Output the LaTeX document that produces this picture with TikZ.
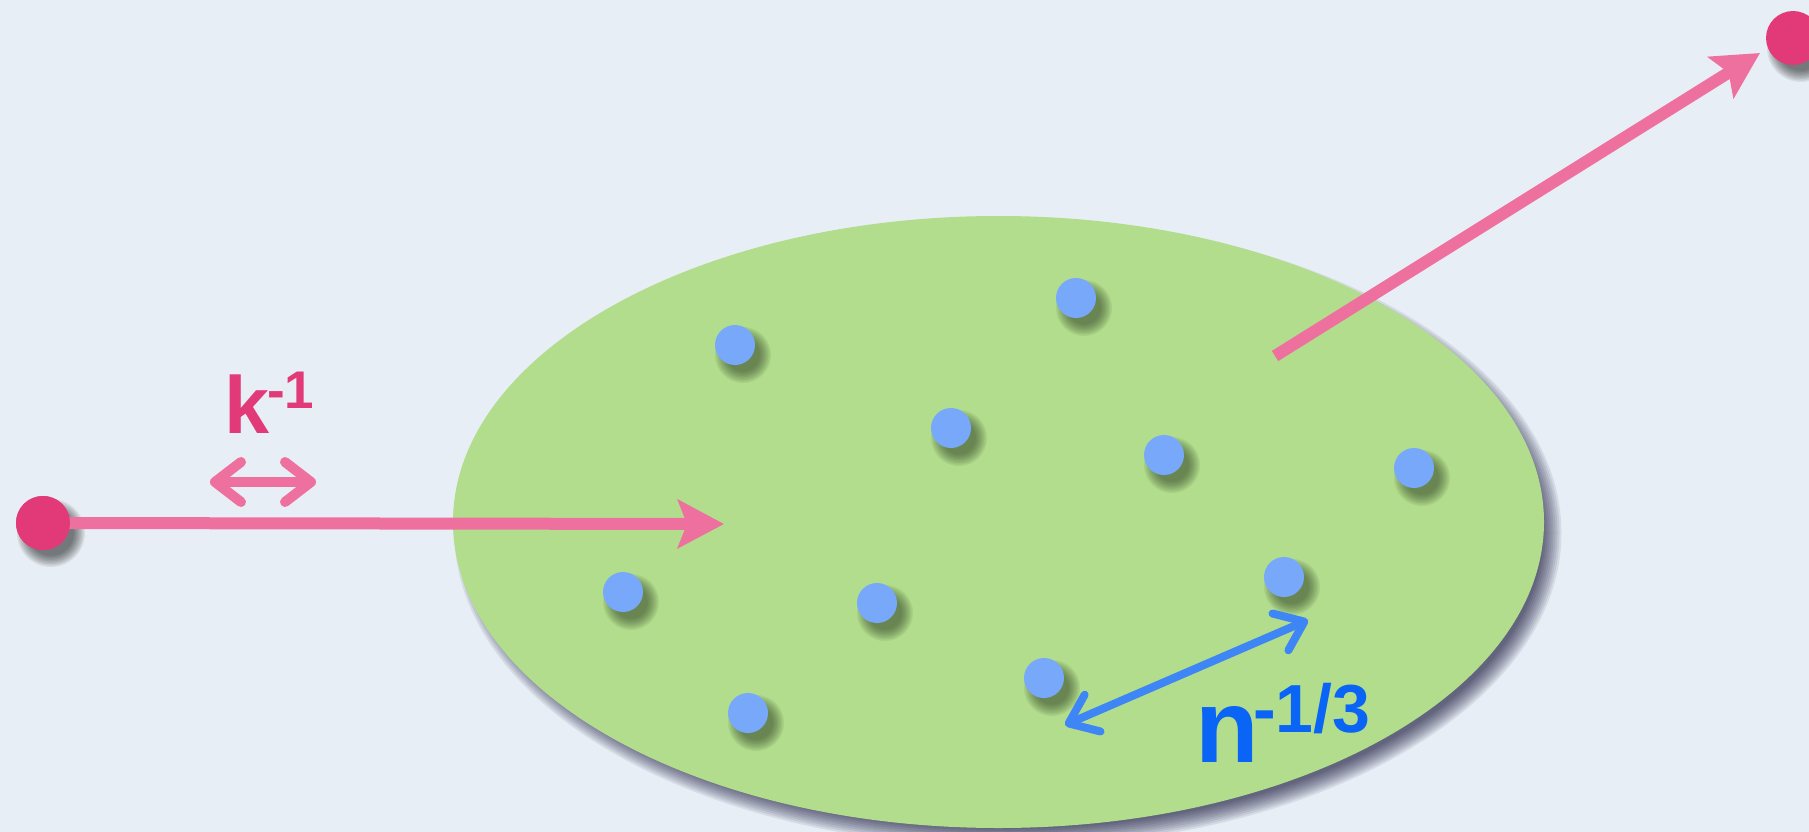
\documentclass[tikz,border=0pt]{standalone}
\usepackage{fontspec}
\setmainfont{Liberation Sans}
\usetikzlibrary{arrows.meta}
\definecolor{bg}{RGB}{232,238,245}
\definecolor{blobgreen}{RGB}{178,221,140}
\definecolor{dotblue}{RGB}{120,168,250}
\definecolor{dotpink}{RGB}{226,58,120}
\definecolor{arrpink}{RGB}{237,112,158}
\definecolor{txtpink}{RGB}{226,58,120}
\definecolor{arrblue}{RGB}{62,134,245}
\definecolor{txtblue}{RGB}{10,100,245}
\definecolor{shadegreen}{RGB}{45,60,35}
\tikzset{
  bdot/.style={circle, fill=dotblue, minimum size=40pt, inner sep=0pt},
  pdot/.style={circle, fill=dotpink, minimum size=54pt, inner sep=0pt},
  bigarrow/.style={draw=arrpink, line width=12pt, -{Stealth[length=46pt,width=48pt,inset=9pt]}},
  smallarrow/.style={line width=10pt, {Straight Barb[length=26pt,width=40pt,line cap=round,line join=round]}-{Straight Barb[length=26pt,width=40pt,line cap=round,line join=round]}},
  lbl/.style={inner sep=0pt, anchor=base west, font=\bfseries}
}
\begin{document}
\begin{tikzpicture}[x=1pt,y=-1pt]
\useasboundingbox (0,0) rectangle (1809,832);
\fill[bg] (0,0) rectangle (1809,832);
% ellipse shadow
\foreach \i in {0,...,9}{
  \pgfmathsetmacro{\rx}{545.5+8-\i*2}
  \pgfmathsetmacro{\ry}{306+8-\i*2}
  \fill[black!85!blue,opacity=0.08] (1008,533) ellipse [x radius=\rx pt, y radius=\ry pt];
}
\fill[blobgreen] (998.5,522) ellipse [x radius=545.5pt, y radius=306pt];
% dot shadows
\foreach \x/\y in {735/345,1076/298,951/428,1164/455,1414/468,623/592,877/603,1284/577,1044/678,748/713}{
  \foreach \i in {0,...,8}{
    \pgfmathsetmacro{\rr}{28-\i*1.4}
    \fill[shadegreen,opacity=0.08] (\x+8,\y+10) circle [radius=\rr pt];
  }
}
\foreach \x/\y in {43/523,1793/38}{
  \foreach \i in {0,...,8}{
    \pgfmathsetmacro{\rr}{34-\i*1.4}
    \fill[black,opacity=0.07] (\x+8,\y+10) circle [radius=\rr pt];
  }
}
% dots
\node[bdot] (d1) at (735,345) {};
\node[bdot] (d2) at (1076,298) {};
\node[bdot] (d3) at (951,428) {};
\node[bdot] (d4) at (1164,455) {};
\node[bdot] (d5) at (1414,468) {};
\node[bdot] (d6) at (623,592) {};
\node[bdot] (d7) at (877,603) {};
\node[bdot] (d8) at (1284,577) {};
\node[bdot] (d9) at (1044,678) {};
\node[bdot] (d10) at (748,713) {};
% pink dots and arrows
\node[pdot] (src) at (43,523) {};
\node[pdot] (dst) at (1793,38) {};
\coordinate (intip) at (724,524);
\coordinate (outstart) at (1275,356);
\coordinate (outtip) at (1760,53);
\draw[bigarrow] (src.center) -- (intip);
\fill[dotpink] (src) circle [radius=27pt];
\draw[bigarrow] (outstart) -- (outtip);
% k^-1
\coordinate (ka) at (210,482);
\coordinate (kb) at (316,482);
\draw[smallarrow, draw=arrpink] (ka) -- (kb);
\node[lbl, text=txtpink, font=\bfseries\fontsize{81}{81}\selectfont] (klab) at (224,433) {k};
\node[lbl, text=txtpink, font=\bfseries\fontsize{53}{53}\selectfont] (ksup) at (267,408) {-1};
% n^-1/3
\coordinate (na) at (1065,725);
\coordinate (nb) at (1308,620);
\draw[smallarrow, line width=8pt, draw=arrblue] (na) -- (nb);
\node[lbl, text=txtblue, font=\bfseries\fontsize{104}{104}\selectfont] (nlab) at (1195,762) {n};
\node[lbl, text=txtblue, font=\bfseries\fontsize{68}{68}\selectfont] (nsup) at (1253,732) {-1/3};
\end{tikzpicture}
\end{document}
